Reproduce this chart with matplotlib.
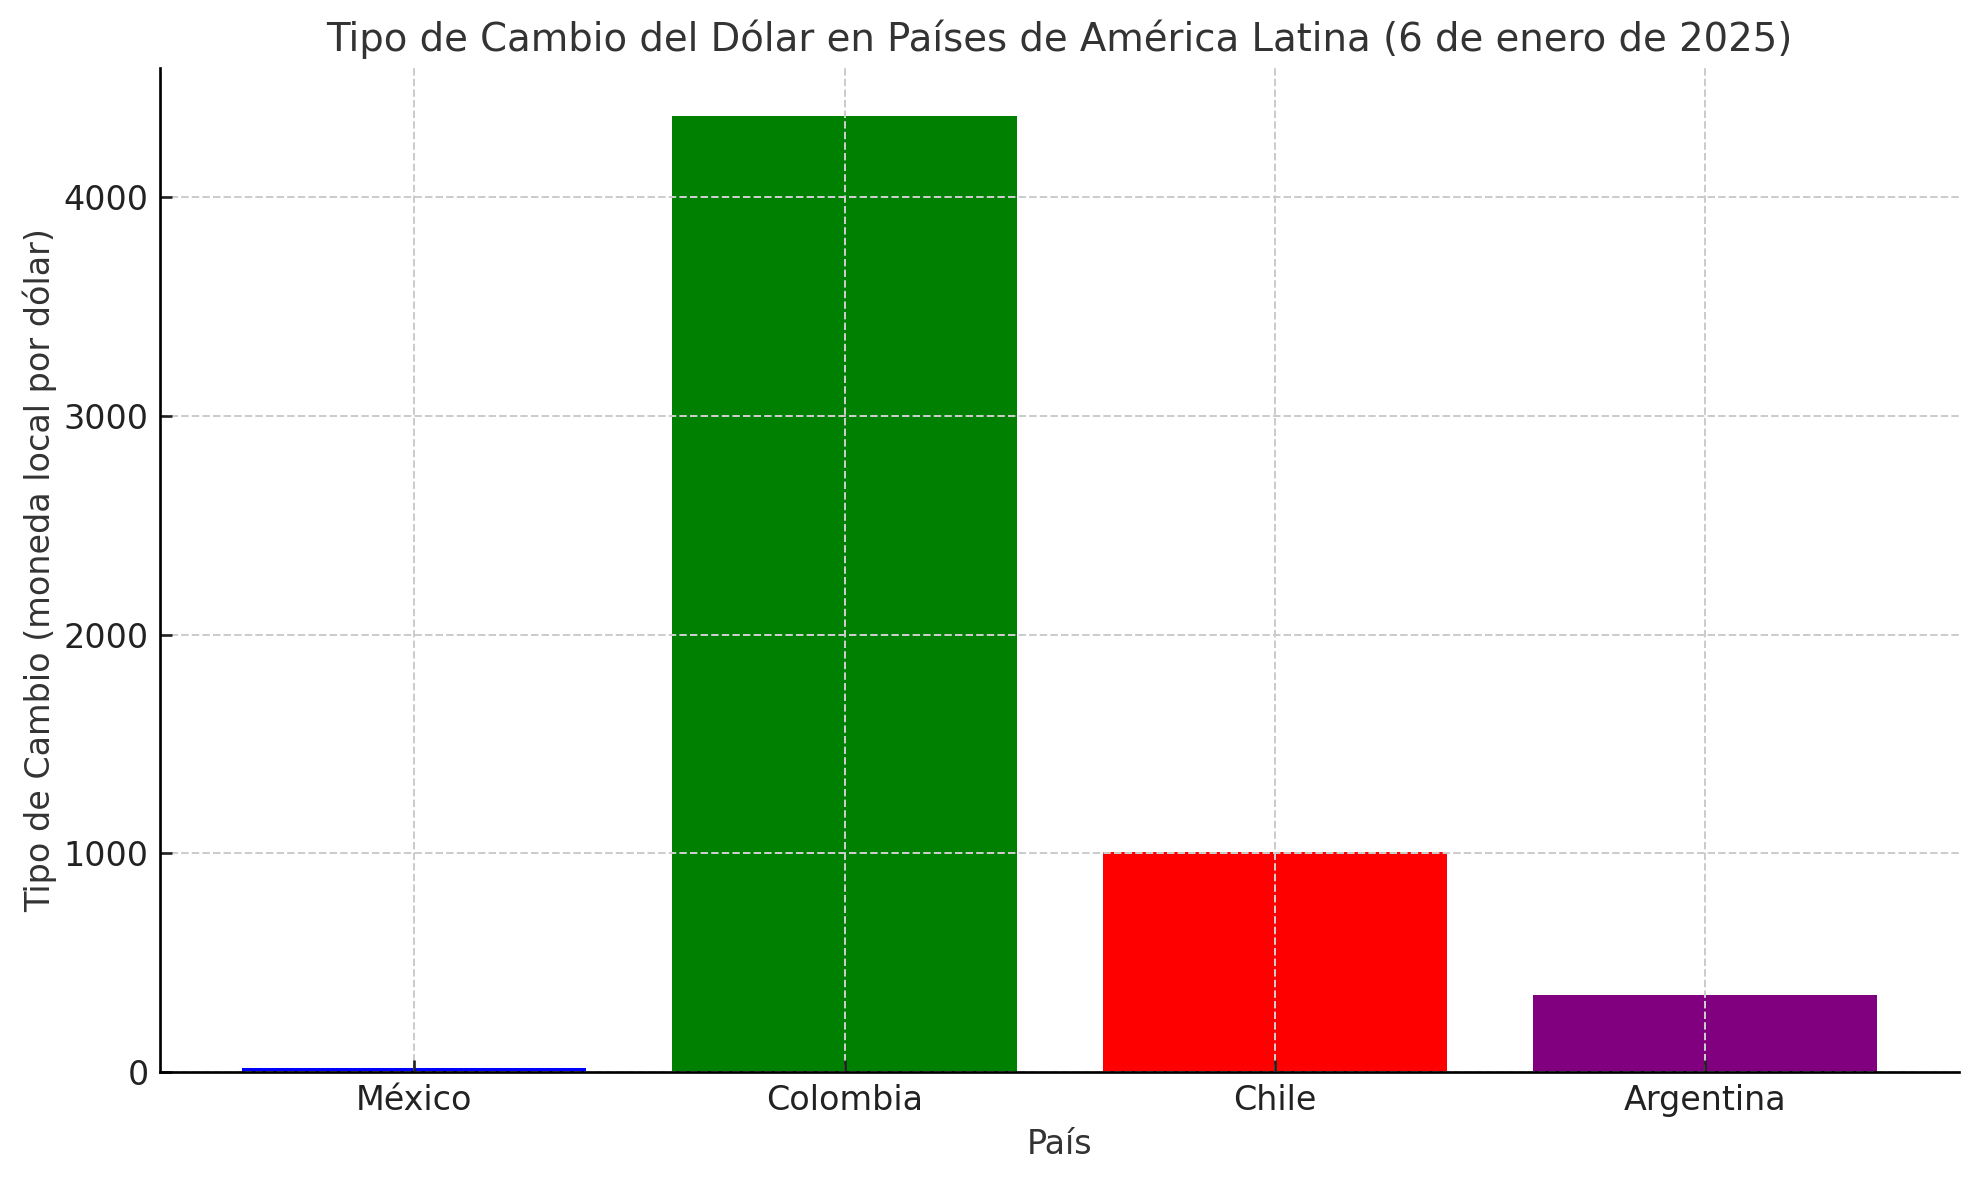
import matplotlib
matplotlib.use("Agg")
import matplotlib.pyplot as plt

paises = ["México", "Colombia", "Chile", "Argentina"]
tipo_cambio = [20.5, 4370, 1008, 350]
colores = ["blue", "green", "red", "purple"]

dpi = 240
fig, ax = plt.subplots(figsize=(1979 / dpi, 1180 / dpi), dpi=dpi)
fig.subplots_adjust(left=0.081, right=0.990, bottom=0.0915, top=0.942)

ax.bar(paises, tipo_cambio, color=colores)

ax.set_title("Tipo de Cambio del Dólar en Países de América Latina (6 de enero de 2025)",
             fontsize=11.6, color="#333333", pad=5.2)
ax.set_xlabel("País", fontsize=10, color="#333333", labelpad=3.5)
ax.set_ylabel("Tipo de Cambio (moneda local por dólar)", fontsize=10,
              color="#333333", labelpad=1.8)

ax.grid(True, linestyle="--", color="#cccccc", linewidth=0.6)
ax.spines["top"].set_visible(False)
ax.spines["right"].set_visible(False)
ax.tick_params(direction="in", colors="#222222", labelsize=10)

fig.savefig("out.png", dpi=dpi)
